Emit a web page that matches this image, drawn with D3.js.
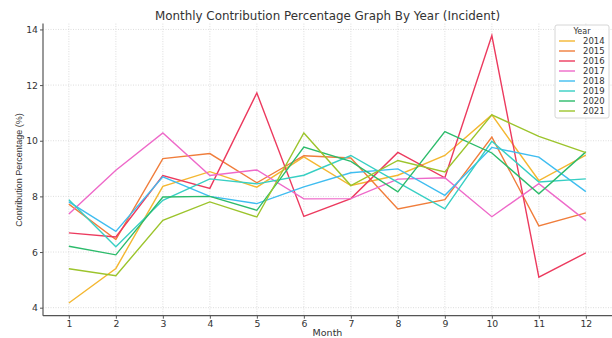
<!DOCTYPE html>
<html><head><meta charset="utf-8">
<script src="https://cdn.jsdelivr.net/npm/d3@7"></script>
<style>body{margin:0;background:#fff;}svg{display:block;font-family:"DejaVu Sans",sans-serif;}</style>
</head><body><svg id="c" width="612" height="338"></svg>
<script>
const months = [1,2,3,4,5,6,7,8,9,10,11,12];
const years = ["2014","2015","2016","2017","2018","2019","2020","2021"];
const yTicks = [4,6,8,10,12,14];
const v2014 = [4.17,5.41,8.36,8.89,8.33,9.42,8.39,8.76,9.47,10.93,8.57,9.48];
const v2015 = [7.72,6.45,9.36,9.54,8.49,9.46,9.38,7.55,7.88,10.13,6.94,7.41];
const v2016 = [6.69,6.54,8.75,8.29,11.72,7.28,7.92,9.58,8.67,13.78,5.10,5.97];
const v2017 = [7.37,8.94,10.28,8.75,8.95,7.91,7.92,8.62,8.67,7.27,8.46,7.13];
const v2018 = [7.80,6.74,8.70,8.00,7.74,8.34,8.85,8.99,8.04,9.76,9.41,8.17];
const v2019 = [7.88,6.19,7.86,8.63,8.45,8.76,9.47,8.50,7.55,9.98,8.52,8.63];
const v2020 = [6.21,5.90,7.98,8.00,7.50,9.77,9.26,8.16,10.33,9.56,8.09,9.60];
const v2021 = [5.40,5.15,7.14,7.80,7.26,10.28,8.39,9.29,8.88,10.93,10.16,9.57];
const seriesValues = [v2014,v2015,v2016,v2017,v2018,v2019,v2020,v2021];
const colors = ["#f4b731","#f07d3b","#ec3a5e","#ee69c9","#3fbdf0","#37cfc3","#2cbb6b","#9cc42c"];

const svg = d3.select("#c");
const x = d3.scaleLinear().domain([0.45,12.55]).range([43,611.7]);
const y = d3.scaleLinear().domain([3.712,14.21]).range([315.7,23.6]);
const pL = 43, pR = 612, pT = 23.6, pB = 315.7;

// grid
svg.append("g").selectAll("line").data(months).join("line")
  .attr("x1",d=>x(d)).attr("x2",d=>x(d)).attr("y1",pT).attr("y2",pB)
  .attr("stroke","#d4d4d4").attr("stroke-width",0.8).attr("stroke-dasharray","1,1.5");
svg.append("g").selectAll("line").data(yTicks).join("line")
  .attr("x1",pL).attr("x2",pR).attr("y1",d=>y(d)).attr("y2",d=>y(d))
  .attr("stroke","#d4d4d4").attr("stroke-width",0.8).attr("stroke-dasharray","1,1.5");

// lines
const line = d3.line().x((d,i)=>x(months[i])).y(d=>y(d));
svg.append("g").selectAll("path").data(seriesValues).join("path")
  .attr("d",d=>line(d)).attr("fill","none")
  .attr("stroke",(d,i)=>colors[i]).attr("stroke-width",1.4).attr("stroke-linejoin","miter");

// axes
const xAxis = svg.append("g").attr("transform",`translate(0,${pB})`)
  .call(d3.axisBottom(x).tickValues(months).tickFormat(d3.format("d")).tickSize(3).tickPadding(2));
const yAxis = svg.append("g").attr("transform",`translate(${pL},0)`)
  .call(d3.axisLeft(y).tickValues(yTicks).tickFormat(d3.format("d")).tickSize(3).tickPadding(2));
[xAxis,yAxis].forEach(a=>{
  a.select(".domain").attr("stroke","#555").attr("stroke-width",1.2);
  a.selectAll(".tick line").attr("stroke","#555");
  a.selectAll(".tick text").attr("fill","#333").style("font-size","9.3px").style("font-family","DejaVu Sans");
});
xAxis.select(".domain").attr("d",`M${pL},0H${pR}`);
yAxis.select(".domain").attr("d",`M0,${pT}V${pB}`);

// title & labels
svg.append("text").attr("x",327.5).attr("y",20).attr("text-anchor","middle")
  .attr("fill","#333").style("font-size","11.9px").text("Monthly Contribution Percentage Graph By Year (Incident)");
svg.append("text").attr("x",327.5).attr("y",336).attr("text-anchor","middle")
  .attr("fill","#333").style("font-size","9.5px").text("Month");
svg.append("text").attr("transform","translate(22,170) rotate(-90)").attr("text-anchor","middle")
  .attr("fill","#333").style("font-size","9px").style("font-family","Liberation Sans Narrow, Liberation Sans").text("Contribution Percentage (%)");

// legend
const lg = svg.append("g");
lg.append("rect").attr("x",555).attr("y",25).attr("width",54).attr("height",93).attr("rx",2)
  .attr("fill","#fff").attr("fill-opacity",0.85).attr("stroke","#ccc").attr("stroke-width",0.8);
lg.append("text").attr("x",582).attr("y",34).attr("text-anchor","middle").attr("fill","#333")
  .style("font-size","8px").text("Year");
const items = lg.selectAll("g.it").data(years).join("g").attr("class","it")
  .attr("transform",(d,i)=>`translate(0,${41+i*10})`);
items.append("line").attr("x1",559).attr("x2",575).attr("y1",0).attr("y2",0)
  .attr("stroke",(d,i)=>colors[i]).attr("stroke-width",1.4);
items.append("text").attr("x",583).attr("y",3).attr("fill","#333").style("font-size","8.5px").text(d=>d);
</script></body></html>
